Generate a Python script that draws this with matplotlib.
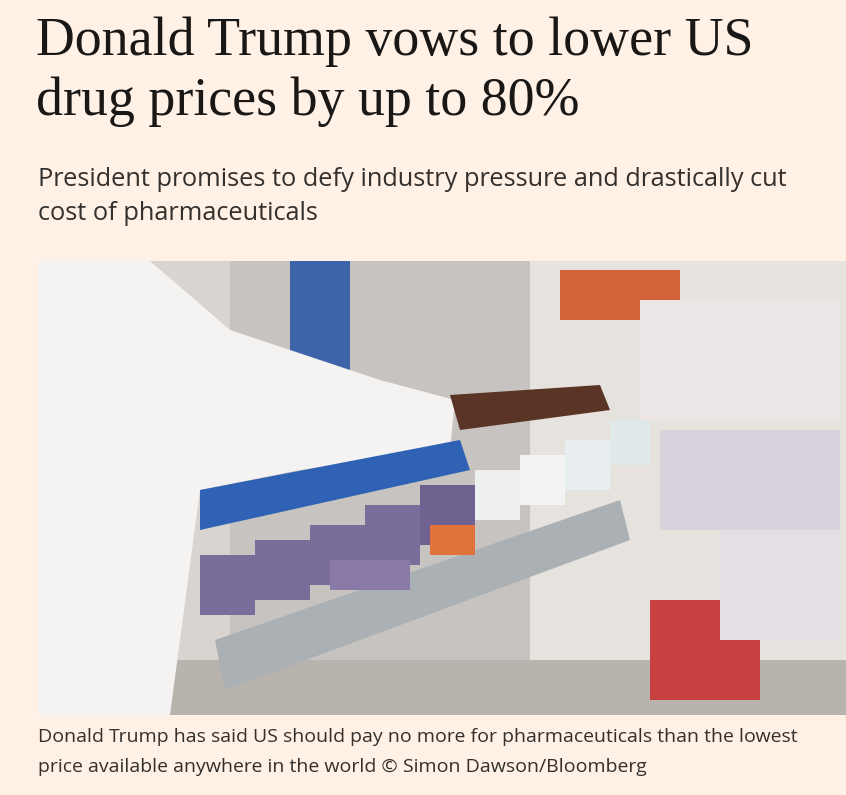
import matplotlib.pyplot as plt
from matplotlib.patches import Rectangle, Polygon

# texts of the article card
title_lines = ["Donald Trump vows to lower US", "drug prices by up to 80%"]
standfirst_lines = ["President promises to defy industry pressure and drastically cut",
                    "cost of pharmaceuticals"]
caption_lines = ["Donald Trump has said US should pay no more for pharmaceuticals than the lowest",
                 "price available anywhere in the world \u00a9 Simon Dawson/Bloomberg"]

# rough photo blocks: (x, y, w, h, colour)
photo_blocks = [
    (38, 261, 808, 454, "#d9d4cf"),
    (230, 261, 300, 454, "#c7c3c0"),
    (530, 261, 316, 454, "#e6e2de"),
    (290, 261, 60, 200, "#3d63a8"),
    (38, 660, 808, 55, "#b9b3ad"),
]
boxes = [  # drug boxes on the tray
    (200, 555, 55, 60, "#7b6d9a"), (255, 540, 55, 60, "#7b6d9a"),
    (310, 525, 55, 60, "#7b6d9a"), (365, 505, 55, 60, "#7b6d9a"),
    (420, 485, 55, 60, "#6f6290"), (330, 560, 80, 30, "#8a7aa8"),
    (430, 525, 45, 30, "#e0733a"), (475, 470, 45, 50, "#eef0f0"),
    (520, 455, 45, 50, "#f3f3f3"), (565, 440, 45, 50, "#e8eef0"),
    (610, 420, 40, 45, "#dfe9ea"), (560, 270, 120, 50, "#d2643a"),
    (640, 300, 200, 120, "#ece7e6"), (660, 430, 180, 100, "#d8d2dc"),
    (650, 600, 110, 100, "#c84040"), (720, 530, 120, 110, "#e5dfe5"),
]

fig = plt.figure(figsize=(8.46, 7.95), dpi=100)
fig.patch.set_facecolor("#fff1e5")
ax = fig.add_axes([0, 0, 1, 1])
ax.set_xlim(0, 846)
ax.set_ylim(795, 0)
ax.axis("off")

for i, line in enumerate(title_lines):
    ax.text(36, 42 + 60 * i, line, fontsize=38.8, family="Liberation Serif",
            color="#1a1817", va="center", ha="left")
for i, line in enumerate(standfirst_lines):
    ax.text(38, 180 + 33 * i, line, fontsize=18.3, family="Open Sans",
            color="#33302e", va="center", ha="left")

for x, y, w, h, c in photo_blocks:
    ax.add_patch(Rectangle((x, y), w, h, color=c, lw=0))
# white coat
ax.add_patch(Polygon([(38, 261), (150, 261), (230, 330), (380, 380), (455, 400),
                      (450, 450), (300, 470), (200, 490), (170, 715), (38, 715)],
                     color="#f4f3f1", lw=0))
ax.add_patch(Polygon([(200, 490), (460, 440), (470, 470), (200, 530)], color="#2f62b5", lw=0))
ax.add_patch(Polygon([(450, 395), (600, 385), (610, 410), (460, 430)], color="#5a3424", lw=0))
# tray
ax.add_patch(Polygon([(215, 640), (620, 500), (630, 540), (225, 690)], color="#aab0b3", lw=0))
for x, y, w, h, c in boxes:
    ax.add_patch(Rectangle((x, y), w, h, color=c, lw=0))

for i, line in enumerate(caption_lines):
    ax.text(38, 737 + 30 * i, line, fontsize=14, family="Open Sans",
            color="#33302e", va="center", ha="left")

fig.savefig("out.png", facecolor=fig.get_facecolor())
